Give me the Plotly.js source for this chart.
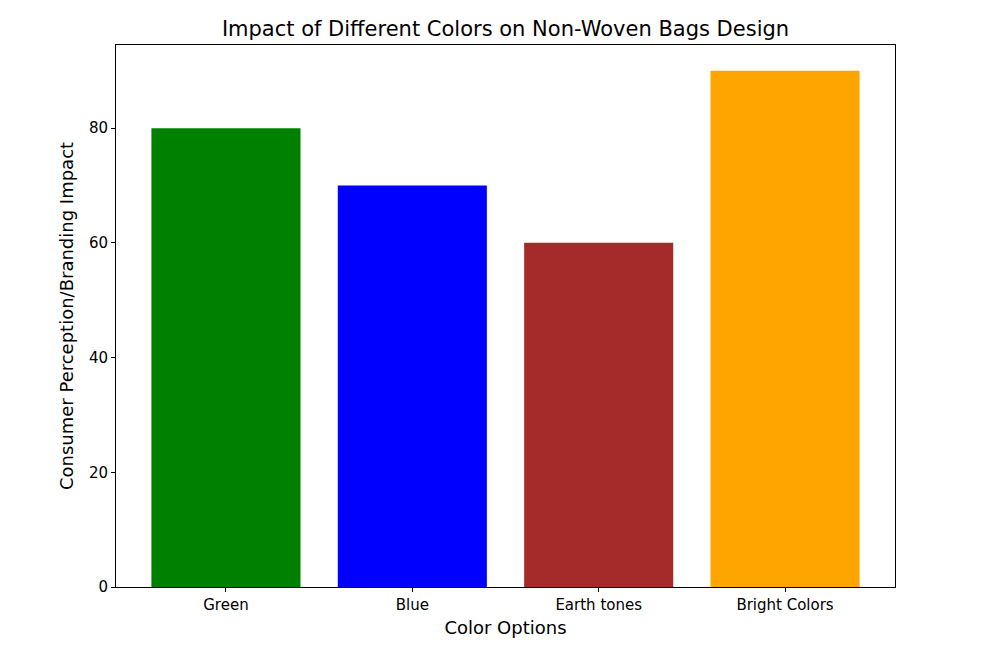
<!DOCTYPE html>
<html>
<head>
<meta charset="utf-8">
<script src="https://cdn.plot.ly/plotly-3.0.1.min.js"></script>
<style>body{margin:0;padding:0;background:#fff;}#chart{width:994px;height:652px;}</style>
</head>
<body>
<div id="chart"></div>
<script>
var categories = ["Green", "Blue", "Earth tones", "Bright Colors"];
var impactValues = [80, 70, 60, 90];
var barColors = ["#008000", "#0000ff", "#a52a2a", "#ffa500"];
var yTicks = [0, 20, 40, 60, 80];

var font = "DejaVu Sans, sans-serif";
var trace = {
  type: "bar",
  x: [0, 1, 2, 3],
  y: impactValues,
  width: 0.8,
  marker: {color: barColors, line: {width: 0}},
  hoverinfo: "none"
};
var layout = {
  width: 994, height: 652,
  margin: {l: 116, r: 99, t: 45, b: 65},
  paper_bgcolor: "#fff", plot_bgcolor: "#fff",
  showlegend: false,
  font: {family: font, color: "#000"},
  title: {text: "Impact of Different Colors on Non-Woven Bags Design", font: {family: font, size: 21, color: "#000"}, xref: "paper", x: 0.5, xanchor: "center", y: 0.956, yanchor: "middle"},
  xaxis: {
    range: [-0.59, 3.59],
    tickvals: [0, 1, 2, 3], ticktext: categories,
    showgrid: false, zeroline: false,
    showline: true, mirror: true, linecolor: "#000", linewidth: 1,
    ticks: "outside", ticklen: 4, tickcolor: "#000", tickwidth: 1,
    tickfont: {family: font, size: 15, color: "#000"},
    title: {text: "Color Options", font: {family: font, size: 18, color: "#000"}, standoff: 8}
  },
  yaxis: {
    range: [0, 94.5],
    tickvals: yTicks,
    showgrid: false, zeroline: false,
    showline: true, mirror: true, linecolor: "#000", linewidth: 1,
    ticks: "outside", ticklen: 4, tickcolor: "#000", tickwidth: 1,
    tickfont: {family: font, size: 15, color: "#000"},
    title: {text: "Consumer Perception/Branding Impact", font: {family: font, size: 18, color: "#000"}, standoff: 10}
  }
};
Plotly.newPlot("chart", [trace], layout, {staticPlot: true, displayModeBar: false});
</script>
</body>
</html>
